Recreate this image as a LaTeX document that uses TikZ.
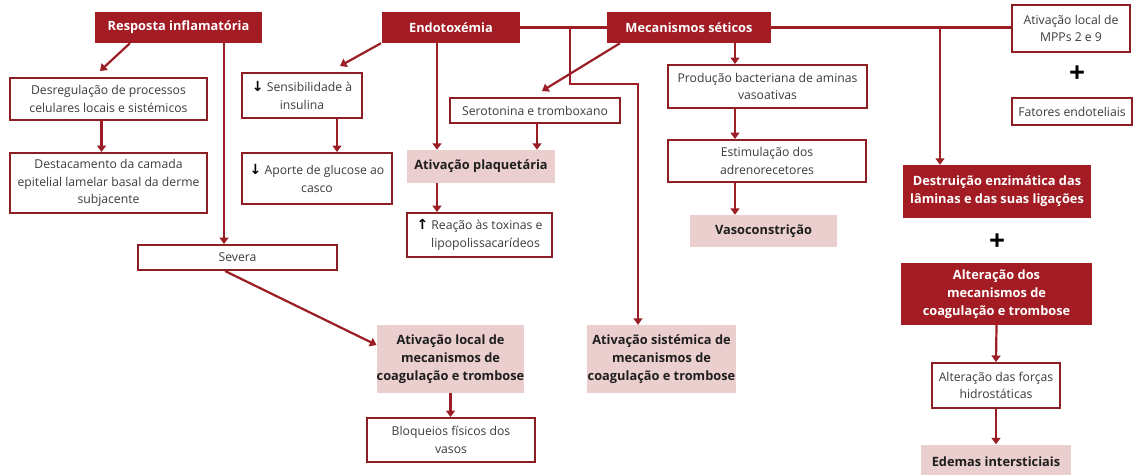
\documentclass[tikz,border=0pt]{standalone}
\usepackage{fontspec}
\setmainfont{Open Sans}
\newfontfamily\symfont{DejaVu Sans}
\usetikzlibrary{arrows.meta,calc}
\definecolor{dred}{RGB}{163,28,36}
\definecolor{bred}{RGB}{140,30,36}
\definecolor{lred}{RGB}{155,30,36}
\definecolor{pinkbg}{RGB}{235,206,206}
\definecolor{tgray}{RGB}{60,60,60}
\definecolor{tdark}{RGB}{30,30,30}
\newcommand{\dn}{{\color{black}\symfont\bfseries\fontsize{14}{14}\selectfont ↓}}
\newcommand{\up}{{\color{black}\symfont\bfseries\fontsize{14}{14}\selectfont ↑}}
\begin{document}
\begin{tikzpicture}[x=1pt,y=-1pt,
 box/.style={rectangle, inner sep=0pt, align=center, font=\fontsize{12.2}{17.5}\selectfont},
 dbox/.style={box, fill=dred, text=white, font=\fontsize{12.8}{18}\selectfont\bfseries},
 wbox/.style={box, draw=bred, line width=2pt, fill=white, text=tgray},
 pbox/.style={box, fill=pinkbg, text=tdark, font=\fontsize{12.8}{18}\selectfont\bfseries},
 plus/.style={font=\fontsize{28}{28}\selectfont\bfseries, text=black, inner sep=0pt},
 conn/.style={draw=lred, line width=2.2pt},
 arr/.style={conn, -{Triangle[width=9pt,length=6.5pt]}},
]
\useasboundingbox (0,0) rectangle (1140,474);
\fill[white] (0,0) rectangle (1140,474);

% top row
\node[dbox, minimum width=167pt, minimum height=31pt] (resp) at (178.5,27.5) {Resposta inflamatória};
\node[dbox, minimum width=138pt, minimum height=31pt] (endo) at (451,27.5) {Endotoxémia};
\node[dbox, minimum width=164pt, minimum height=31pt] (meca) at (689,27.5) {Mecanismos séticos};
\node[wbox, minimum width=118pt, minimum height=47pt] (mpp) at (1071,28.5) {Ativação local de\\MPPs 2 e 9};
\node[plus] (plus1) at (1077,74) {+};
\node[wbox, minimum width=120pt, minimum height=27pt] (fat) at (1072,111.5) {Fatores endoteliais};

% left
\node[wbox, minimum width=197pt, minimum height=42pt] (desreg) at (108.5,99) {Desregulação de processos\\celulares locais e sistémicos};
\node[wbox, minimum width=197pt, minimum height=60pt] (destac) at (108.5,183) {Destacamento da camada\\epitelial lamelar basal da derme\\subjacente};
\node[wbox, minimum width=120pt, minimum height=45pt] (sens) at (302,95.5) {\dn\ Sensibilidade à\\insulina};
\node[wbox, minimum width=150pt, minimum height=51pt] (aporte) at (317,178.5) {\dn\ Aporte de glucose ao\\casco};
\node[wbox, minimum width=199pt, minimum height=25pt] (severa) at (237.5,257.5) {Severa};

% middle
\node[wbox, minimum width=170pt, minimum height=25pt] (sero) at (535,110.5) {Serotonina e tromboxano};
\node[pbox, minimum width=148pt, minimum height=33pt] (plaq) at (481,166.5) {Ativação plaquetária};
\node[wbox, minimum width=145pt, minimum height=44pt] (reac) at (479.5,235) {\up\ Reação às toxinas e\\\hspace*{12pt}lipopolissacarídeos};
\node[wbox, minimum width=199pt, minimum height=43pt] (prod) at (767.5,86.5) {Produção bacteriana de aminas\\vasoativas};
\node[wbox, minimum width=198pt, minimum height=42pt] (estim) at (767,161) {Estimulação dos\\adrenorecetores};
\node[pbox, minimum width=147pt, minimum height=32pt] (vaso) at (763.5,231) {Vasoconstrição};
\node[pbox, minimum width=147pt, minimum height=68pt] (local) at (450.5,359) {Ativação local de\\mecanismos de\\coagulação e trombose};
\node[wbox, minimum width=168pt, minimum height=44pt] (bloq) at (451,440) {Bloqueios físicos dos\\vasos};
\node[pbox, minimum width=149pt, minimum height=68pt] (sist) at (661.5,359) {Ativação sistémica de\\mecanismos de\\coagulação e trombose};

% right
\node[dbox, minimum width=188pt, minimum height=53pt] (destr) at (997,191.5) {Destruição enzimática das\\lâminas e das suas ligações};
\node[plus] (plus2) at (997,242) {+};
\node[dbox, minimum width=191pt, minimum height=62pt] (alter) at (996.5,294) {Alteração dos\\mecanismos de\\coagulação e trombose};
\node[wbox, minimum width=128pt, minimum height=45pt] (forc) at (996,385.5) {Alteração das forças\\hidrostáticas};
\node[pbox, minimum width=150pt, minimum height=35pt] (edem) at (996,462) {Edemas intersticiais};

% junctions
\coordinate (j1) at (570,27.5);
\coordinate (j2) at (638,84);
\coordinate (j3) at (940,27.5);

% connectors
\draw[arr] ([xshift=-48.5pt]resp.south) -- ([xshift=-8.5pt,yshift=6pt]desreg.north);
\draw[arr] ([xshift=45.5pt]resp.south) -- ([xshift=45.5pt]resp.south |- severa.north);
\draw[arr] ([xshift=-7pt]desreg.south) -- ([xshift=-7pt]destac.north);
\draw[arr] ([xshift=-70pt]endo.south) -- ([xshift=38pt,yshift=6pt]sens.north);
\draw[arr] ([xshift=35pt]sens.south) -- ([xshift=35pt]sens.south |- aporte.north);
\draw[arr] ([xshift=-14pt]endo.south) -- ([xshift=-14pt]endo.south |- plaq.north);
\draw[arr] ([xshift=2pt]sero.south) -- ([xshift=2pt]sero.south |- plaq.north);
\draw[arr] ([xshift=-44pt]plaq.south) -- ([xshift=-44pt]plaq.south |- reac.north);
\draw[conn] (endo.east) -- (meca.west);
\draw[arr] (j1) |- (j2) -- (j2 |- sist.north);
\draw[arr] ([xshift=-69pt]meca.south) -- ([xshift=7pt,yshift=6pt]sero.north);
\draw[arr] ([xshift=46pt]meca.south) -- ([xshift=46pt]meca.south |- prod.north);
\draw[arr] ([xshift=-32.5pt]prod.south) -- ([xshift=-32.5pt]prod.south |- estim.north);
\draw[arr] ([xshift=-32pt]estim.south) -- ([xshift=-32pt]estim.south |- vaso.north);
\draw[conn] (meca.east) -- (meca.east -| mpp.west);
\draw[arr] (j3) -- (j3 |- destr.north);
\draw[arr] ([xshift=-12.5pt]severa.south) -- ([yshift=14pt]local.west);
\draw[arr] (local.south) -- (local.south |- bloq.north);
\draw[arr] (alter.south) -- (forc.north);
\draw[arr] (forc.south) -- (forc.south |- edem.north);
\end{tikzpicture}
\end{document}
